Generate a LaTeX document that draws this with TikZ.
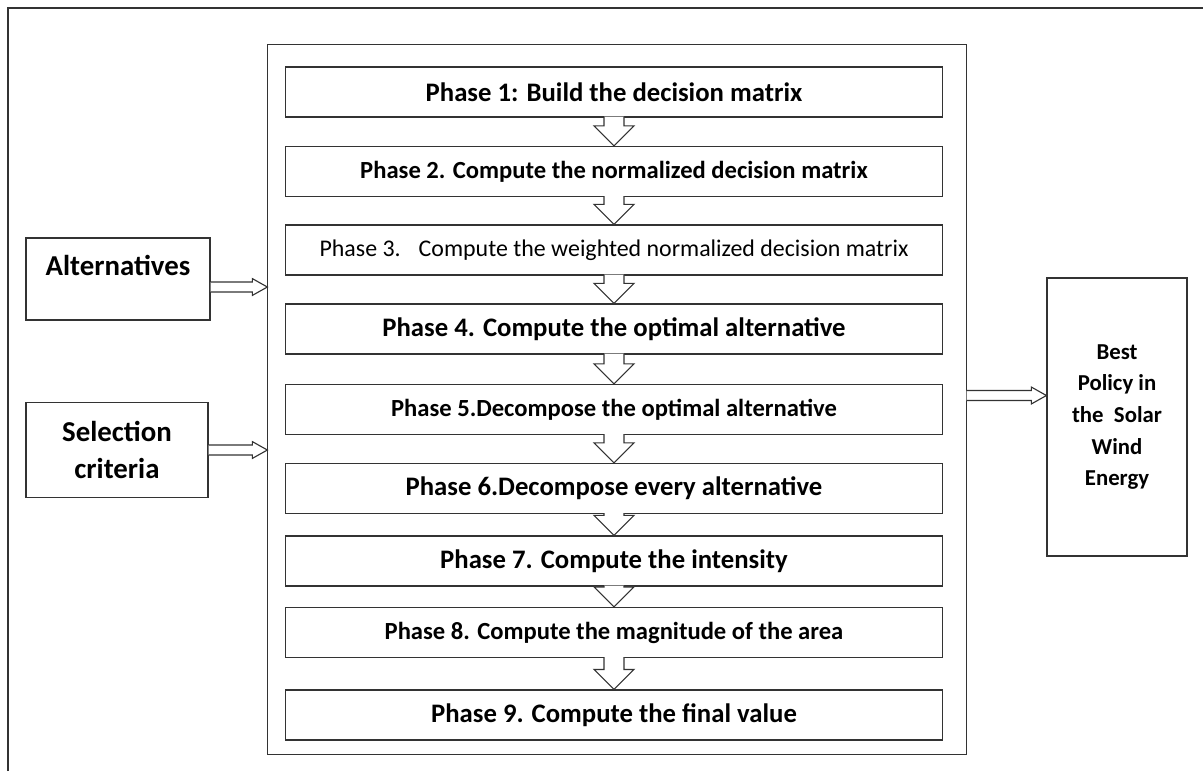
\documentclass[tikz,border=0pt]{standalone}
\usepackage{fontspec}
\setmainfont{Carlito}
\usetikzlibrary{calc}

\newcommand{\phasearrow}[2]{\draw[hollow] let \p1=(#1.south), \p2=(#2.north) in (\x1-0.25cm,\y1+0.6pt) -- (\x1-0.25cm,\y2+0.5cm) -- (\x1-0.5cm,\y2+0.5cm) -- (\x1,\y2) -- (\x1+0.5cm,\y2+0.5cm) -- (\x1+0.25cm,\y2+0.5cm) -- (\x1+0.25cm,\y1+0.6pt);}
\newcommand{\sidearrow}[3]{\draw[hollow] let \p1=([yshift=#3]#1.east), \p2=(#2.west) in (\x1,\y1+0.125cm) -- (\x2-0.375cm,\y1+0.125cm) -- (\x2-0.375cm,\y1+0.21cm) -- (\x2,\y1) -- (\x2-0.375cm,\y1-0.21cm) -- (\x2-0.375cm,\y1-0.125cm) -- (\x1,\y1-0.125cm);}

\begin{document}
\begin{tikzpicture}[x=0.025cm,y=-0.025cm,line width=0.8pt,
  box/.style={draw=black!80,inner sep=0pt,align=center},
  phase/.style={box,minimum width=16.4cm,minimum height=1.25cm,font=\fontsize{19}{22}\selectfont\bfseries},
  narrow/.style={font=\fontsize{17.5}{22}\selectfont\bfseries},
  side/.style={box,font=\fontsize{20.5}{26.5}\selectfont\bfseries},
  hollow/.style={draw=black!80,fill=white,line width=0.8pt}]
\useasboundingbox (0,0) rectangle (1203,771);
\draw[black!80] (8,771) -- (8,8) -- (1203,8);

\node[box,minimum width=17.45cm,minimum height=17.725cm] (frame) at (617,399.5) {};

\node[phase] (p1) at (614,92) {Phase 1: Build the decision matrix};
\node[phase,narrow] (p2) at (614,171.5) {Phase 2. Compute the normalized decision matrix};
\node[phase,font=\fontsize{17}{20}\selectfont] (p3) at (614,250) {Phase 3. \ \ Compute the weighted normalized decision matrix};
\node[phase] (p4) at (614,329) {Phase 4. Compute the optimal alternative};
\node[phase,narrow] (p5) at (614,409.5) {Phase 5.Decompose the optimal alternative};
\node[phase] (p6) at (614,488.5) {Phase 6.Decompose every alternative};
\node[phase] (p7) at (614,561) {Phase 7. Compute the intensity};
\node[phase,narrow] (p8) at (614,632.5) {Phase 8. Compute the magnitude of the area};
\node[phase] (p9) at (614,715) {Phase 9. Compute the final value};

\node[side,minimum width=4.6cm,text height=0.925cm,text depth=1.125cm] (alt) at (118,279) {Alternatives};
\node[side,minimum width=4.55cm,minimum height=2.375cm] (sel) at (117,450) {Selection\\criteria};
\node[box,minimum width=3.5cm,minimum height=6.95cm,font=\fontsize{16.2}{22.5}\selectfont\bfseries] (best) at (1117,417) {Best\\Policy in\\the \ Solar\\Wind\\Energy};

\phasearrow{p1}{p2}
\phasearrow{p2}{p3}
\phasearrow{p3}{p4}
\phasearrow{p4}{p5}
\phasearrow{p5}{p6}
\phasearrow{p6}{p7}
\phasearrow{p7}{p8}
\phasearrow{p8}{p9}

\sidearrow{alt}{frame}{-0.2cm}
\sidearrow{sel}{frame}{0cm}
\sidearrow{frame}{best}{0.1cm}
\end{tikzpicture}
\end{document}
